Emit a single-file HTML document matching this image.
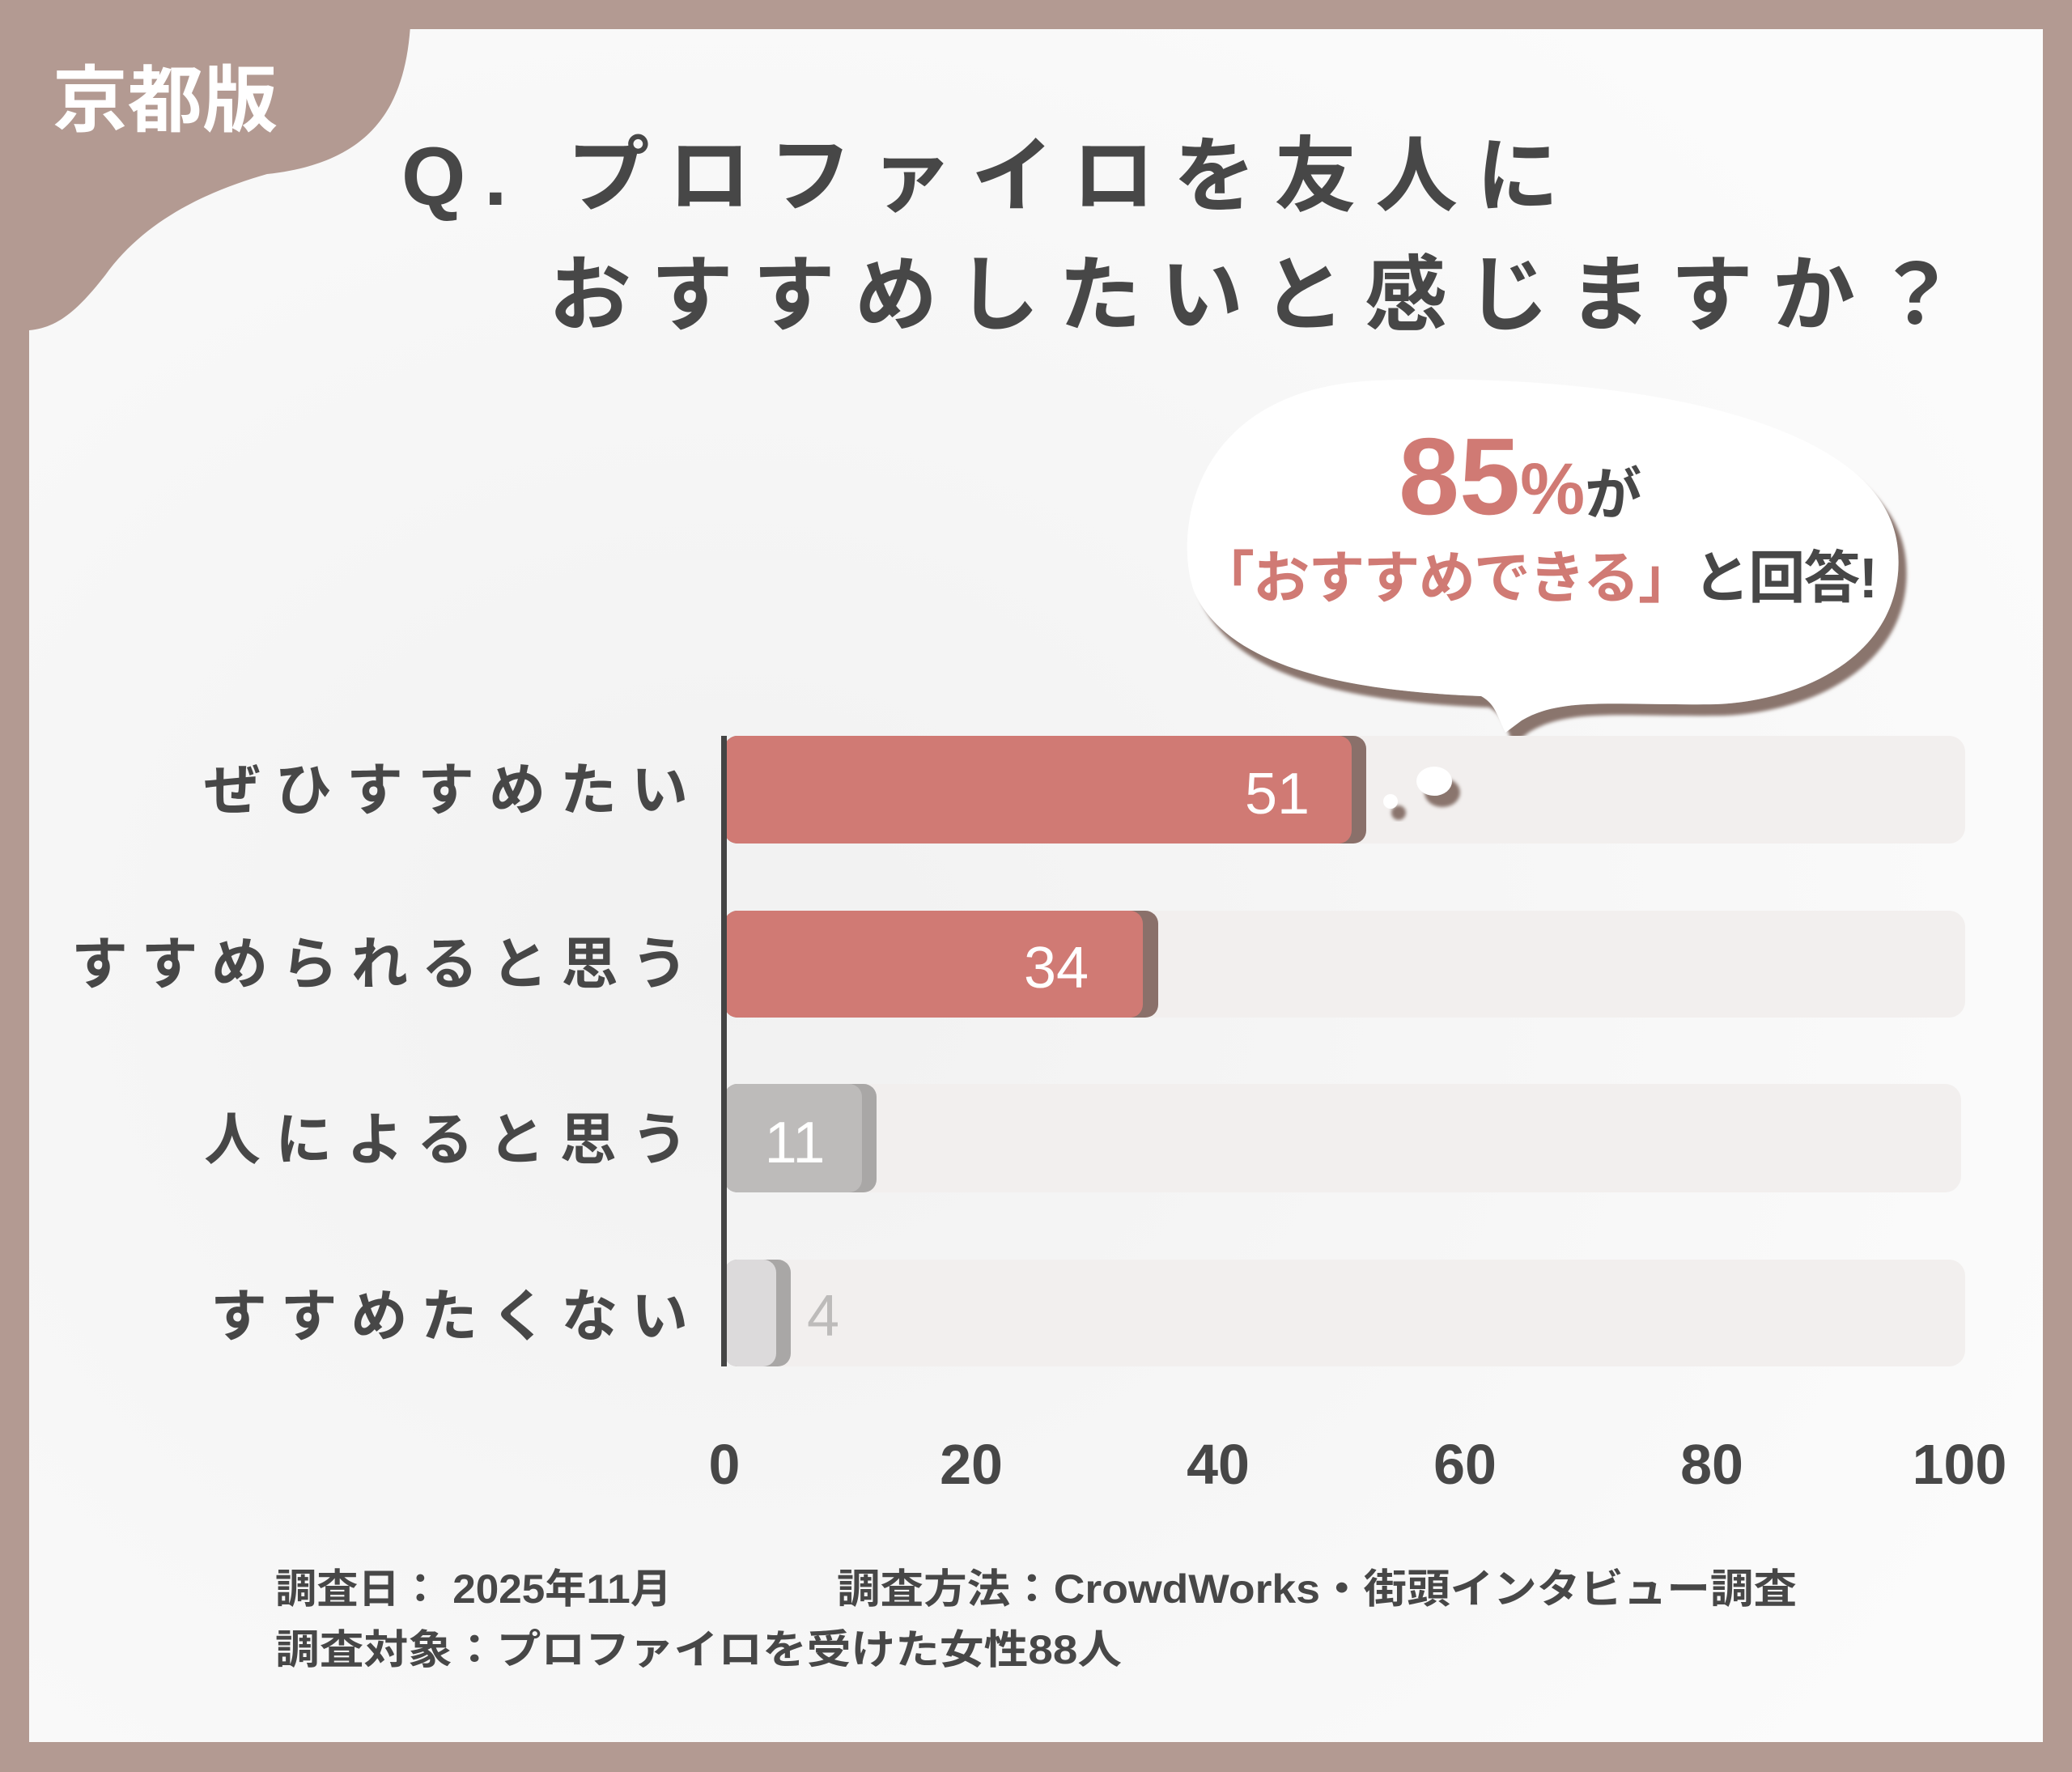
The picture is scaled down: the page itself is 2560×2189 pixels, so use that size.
<!DOCTYPE html>
<html><head><meta charset="utf-8"><style>
html,body{margin:0;padding:0;background:#b39a92}
svg{display:block}
text{font-family:"Liberation Sans","Noto Sans CJK JP",sans-serif}
</style></head><body>
<svg width="2560" height="2189" viewBox="0 0 2560 2189" xmlns="http://www.w3.org/2000/svg">
<defs>
<radialGradient id="bg" cx="0.35" cy="0.55" r="0.7">
<stop offset="0" stop-color="#f1f1f1"/><stop offset="1" stop-color="#fbfbfb"/>
</radialGradient>
<filter id="sh" x="-10%" y="-10%" width="130%" height="140%"><feDropShadow dx="10" dy="14" stdDeviation="2" flood-color="#8a746d"/></filter>
</defs>
<rect x="0" y="0" width="2560" height="2189" fill="#b39a92"/>
<rect x="36" y="36" width="2488" height="2116" fill="url(#bg)"/>
<path d="M0 0 H508 C508 120 470 200 330 215 C260 235 180 270 130 340 C95 385 70 405 36 408 V0 Z" fill="#b39a92"/>
<text x="65" y="155" font-size="90" font-weight="bold" fill="#fff" textLength="278" lengthAdjust="spacingAndGlyphs">京都版</text>
<text x="496" y="253" font-size="102" font-weight="bold" fill="#474747" textLength="1430" lengthAdjust="spacing">Q. プロファイロを友人に</text>
<text x="678" y="400" font-size="102" font-weight="bold" fill="#474747" textLength="1740" lengthAdjust="spacing">おすすめしたいと感じますか？</text>
<g filter="url(#sh)">
<path d="M1700 470 C1950 460 2330 500 2345 680 C2355 800 2240 865 2120 870 C2000 872 1930 860 1880 890 L1860 905 C1850 885 1848 870 1830 860 C1700 855 1520 835 1475 730 C1450 660 1470 480 1700 470 Z" fill="#fff"/>
</g>
<text x="1728" y="635" font-size="135" font-weight="bold" fill="#d07a74">85<tspan font-size="90">%</tspan><tspan font-size="70" fill="#474747">が</tspan></text>
<text x="1480" y="738" font-size="70" font-weight="bold" fill="#d07a74" textLength="840" lengthAdjust="spacing">「おすすめできる」<tspan fill="#474747">と回答!</tspan></text>
<g fill="#f2efee">
<rect x="895" y="909" width="1533" height="133" rx="20"/>
<rect x="895" y="1125" width="1533" height="132" rx="20"/>
<rect x="895" y="1339" width="1528" height="134" rx="20"/>
<rect x="895" y="1556" width="1533" height="132" rx="20"/>
</g>
<g filter="url(#sh)">
<ellipse cx="1772" cy="965" rx="22" ry="18" fill="#fff"/>
<ellipse cx="1718" cy="990" rx="9" ry="9" fill="#fff"/>
</g>
<rect x="895" y="909" width="793" height="133" rx="16" fill="#8a706a"/>
<rect x="895" y="909" width="775" height="133" rx="16" fill="#d07a74"/>
<rect x="895" y="1125" width="536" height="132" rx="16" fill="#8a706a"/>
<rect x="895" y="1125" width="517" height="132" rx="16" fill="#d07a74"/>
<rect x="895" y="1339" width="188" height="134" rx="16" fill="#a9a7a6"/>
<rect x="895" y="1339" width="170" height="134" rx="16" fill="#bdbbba"/>
<rect x="895" y="1556" width="82" height="132" rx="16" fill="#a9a7a6"/>
<rect x="895" y="1556" width="64" height="132" rx="16" fill="#dcdadb"/>
<rect x="891" y="909" width="7" height="779" fill="#444"/>
<g font-size="72" fill="#fff" text-anchor="middle">
<text x="1578" y="1005">51</text>
<text x="1305" y="1220">34</text>
<text x="982" y="1436">11</text>
<text x="1017" y="1650" fill="#bdbbba">4</text>
</g>
<g font-size="70" font-weight="bold" fill="#474747" text-anchor="end" lengthAdjust="spacing">
<text x="850" y="1000" textLength="598">ぜひすすめたい</text>
<text x="850" y="1215" textLength="762">すすめられると思う</text>
<text x="850" y="1432" textLength="598">人によると思う</text>
<text x="850" y="1650" textLength="590">すすめたくない</text>
</g>
<g font-size="70" font-weight="bold" fill="#474747" text-anchor="middle">
<text x="895" y="1833">0</text>
<text x="1200" y="1833">20</text>
<text x="1505" y="1833">40</text>
<text x="1810" y="1833">60</text>
<text x="2115" y="1833">80</text>
<text x="2421" y="1833">100</text>
</g>
<g font-size="50" font-weight="bold" fill="#474747">
<text x="340" y="1980" textLength="490" lengthAdjust="spacingAndGlyphs">調査日： 2025年11月</text>
<text x="1034" y="1980" textLength="1186" lengthAdjust="spacingAndGlyphs">調査方法：CrowdWorks・街頭インタビュー調査</text>
<text x="340" y="2055" textLength="1046" lengthAdjust="spacingAndGlyphs">調査対象：プロファイロを受けた女性88人</text>
</g>
</svg>
</body></html>
